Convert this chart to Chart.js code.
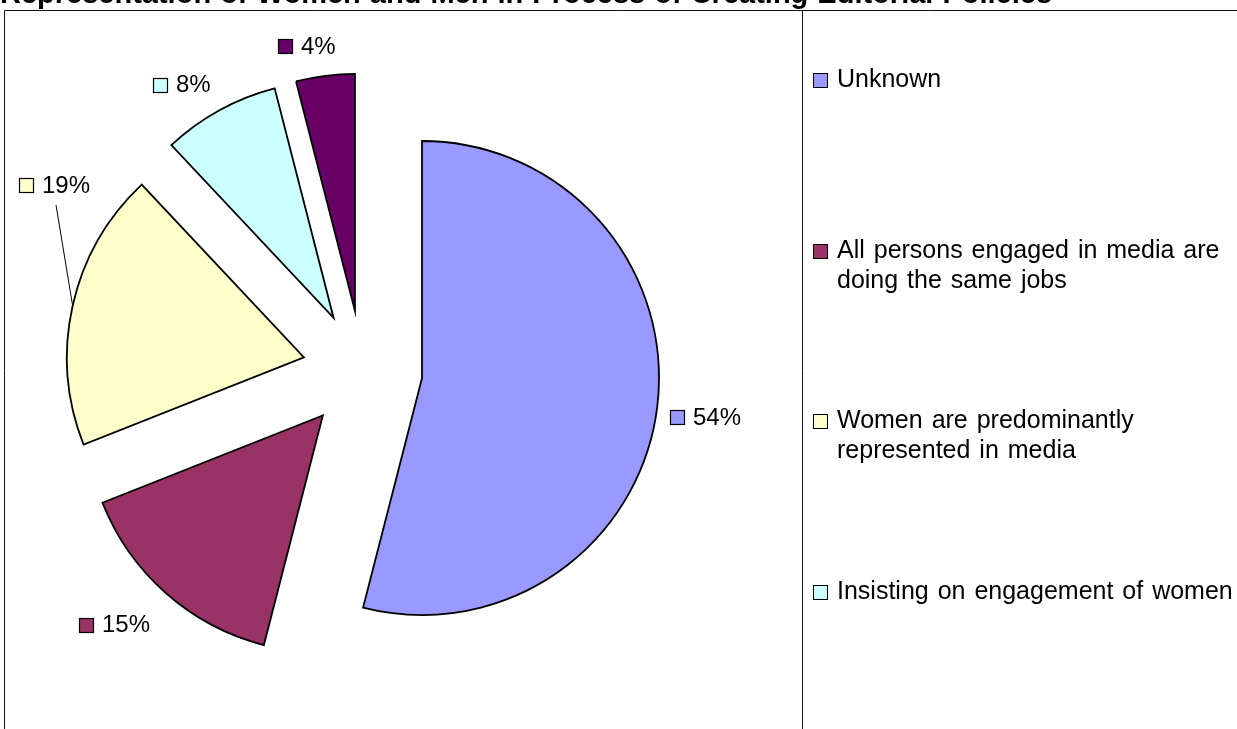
<!DOCTYPE html>
<html>
<head>
<meta charset="utf-8">
<script src="https://cdn.jsdelivr.net/npm/chart.js@4.4.1/dist/chart.umd.min.js"></script>
<style>
    html, body { margin: 0; padding: 0; background: #fff; overflow: hidden; }
    #quadro { position: relative; width: 1237px; height: 729px; overflow: hidden; }
    #grafico_pizza { position: absolute; left: 0; top: 0; }
    #titulo {
        position: absolute; left: 0; top: -22px; white-space: nowrap;
        font: bold 29px "Liberation Sans", Arial, sans-serif; line-height: 30px; color: #000;
        word-spacing: 1px;
    }
    #legenda {
        position: absolute; left: 813px; top: 63px; width: 424px;
        font: 25px "Liberation Sans", Arial, sans-serif; color: #000;
    }
    .item { position: relative; height: 170.5px; }
    .item span.texto { display: block; margin-left: 24px; width: 400px; line-height: 30px; word-spacing: 2px; }
    .item span.quadrado {
        position: absolute; left: 0; top: 10px; width: 13px; height: 13px; border: 1px solid #000;
    }
</style>
</head>
<body>
<div id="quadro">
    <canvas id="grafico_pizza" width="1237" height="729"></canvas>
    <div id="titulo">Representation of Women and Men in Process of Creating Editorial Policies</div>
    <div id="legenda"></div>
</div>
<script>
const categorias = [
    "Unknown",
    "All persons engaged in media are doing the same jobs",
    "Women are predominantly represented in media",
    "Insisting on engagement of women",
    "Men are predominantly represented in media"
]
const percentuais = [54, 15, 19, 8, 4]
const cores = ["#9999FF", "#993366", "#FFFFCC", "#CCFFFF", "#660066"]

// limites da área do gráfico (a caixa com borda)
const caixa = { left: 4.5, top: 10.5, right: 802.5 }
const explosao = 60

// moldura: caixa da pizza e caixa da legenda
const moldura = {
    id: 'moldura',
    beforeDraw(chart) {
        const ctx = chart.ctx
        ctx.save()
        ctx.strokeStyle = '#111'
        ctx.lineWidth = 1
        ctx.beginPath()
        ctx.moveTo(caixa.left, chart.height + 2)
        ctx.lineTo(caixa.left, caixa.top)
        ctx.lineTo(chart.width + 2, caixa.top)
        ctx.moveTo(caixa.right, caixa.top)
        ctx.lineTo(caixa.right, chart.height + 2)
        ctx.stroke()
        ctx.restore()
    }
}

// afasta cada fatia do centro, na direção do seu ângulo médio
const explodir = {
    id: 'explodir',
    afterDatasetsUpdate(chart) {
        const area = chart.chartArea
        const cx = (area.left + area.right) / 2
        const cy = (area.top + area.bottom) / 2
        chart.getDatasetMeta(0).data.forEach(arc => {
            const meio = (arc.startAngle + arc.endAngle) / 2
            arc.x = cx + Math.cos(meio) * explosao
            arc.y = cy + Math.sin(meio) * explosao
        })
    }
}

// rótulos de porcentagem com o quadradinho da cor
const rotulos = {
    id: 'rotulos',
    afterDatasetsDraw(chart) {
        const ctx = chart.ctx
        const meta = chart.getDatasetMeta(0)
        const dados = chart.data.datasets[0].data
        ctx.save()
        ctx.font = '24px "Liberation Sans", Arial, sans-serif'
        ctx.textBaseline = 'alphabetic'
        meta.data.forEach((arc, i) => {
            const texto = dados[i] + '%'
            const meio = (arc.startAngle + arc.endAngle) / 2
            const dx = Math.cos(meio), dy = Math.sin(meio)
            const R = arc.outerRadius
            const larg = 23 + ctx.measureText(texto).width
            const alt = 20
            const px = arc.x + (R + 25) * dx
            const py = arc.y + (R + 25) * dy
            let cx = px + dx * larg / 2 - 12
            let cy = py + dy * alt / 2 + 4
            let guia = false
            if (cx - larg / 2 < caixa.left + 14) {
                // não cabe: empurra para dentro e sobe até livrar a fatia
                cx = caixa.left + 14 + larg / 2
                guia = true
                const passo = dy < 0 ? -1 : 1
                for (let n = 0; n < 400; n++) {
                    const qx = Math.min(Math.max(arc.x, cx - larg / 2), cx + larg / 2)
                    const qy = Math.min(Math.max(arc.y, cy - alt / 2), cy + alt / 2)
                    if (Math.hypot(qx - arc.x, qy - arc.y) >= R + 32) break
                    cy += passo
                }
            }
            if (guia) {
                ctx.strokeStyle = '#000'
                ctx.lineWidth = 1
                ctx.beginPath()
                ctx.moveTo(cx + 2, cy + alt / 2 + 11)
                ctx.lineTo(arc.x + R * dx, arc.y + R * dy)
                ctx.stroke()
            }
            const esq = Math.round(cx - larg / 2)
            const topoQ = Math.round(cy - 6)
            ctx.fillStyle = cores[i]
            ctx.fillRect(esq, topoQ, 14, 14)
            ctx.strokeStyle = '#000'
            ctx.lineWidth = 1.2
            ctx.strokeRect(esq + 0.5, topoQ + 0.5, 14, 14)
            ctx.fillStyle = '#000'
            ctx.fillText(texto, esq + 23, cy + 8.6)
        })
        ctx.restore()
    }
}

const montarLegenda = (chart) => {
    const alvo = document.querySelector('#legenda')
    chart.data.labels.forEach((rotulo, i) => {
        const item = document.createElement('div')
        item.className = 'item'
        const q = document.createElement('span')
        q.className = 'quadrado'
        q.style.background = chart.data.datasets[0].backgroundColor[i]
        const t = document.createElement('span')
        t.className = 'texto'
        t.textContent = rotulo
        item.appendChild(q)
        item.appendChild(t)
        alvo.appendChild(item)
    })
}

const ctx = document.querySelector('#grafico_pizza')
const grafico = new Chart(ctx, {
    type: 'pie',
    data: {
        labels: categorias,
        datasets: [{
            data: percentuais,
            backgroundColor: cores,
            borderColor: '#000',
            borderWidth: 1.8,
            borderJoinStyle: 'miter'
        }]
    },
    options: {
        responsive: false,
        animation: false,
        events: [],
        radius: 237,
        layout: { padding: { left: 0, right: 512, top: 12, bottom: 0 } },
        plugins: {
            legend: { display: false },
            tooltip: { enabled: false },
            title: { display: false }
        }
    },
    plugins: [moldura, explodir, rotulos]
})

montarLegenda(grafico)
</script>
</body>
</html>
